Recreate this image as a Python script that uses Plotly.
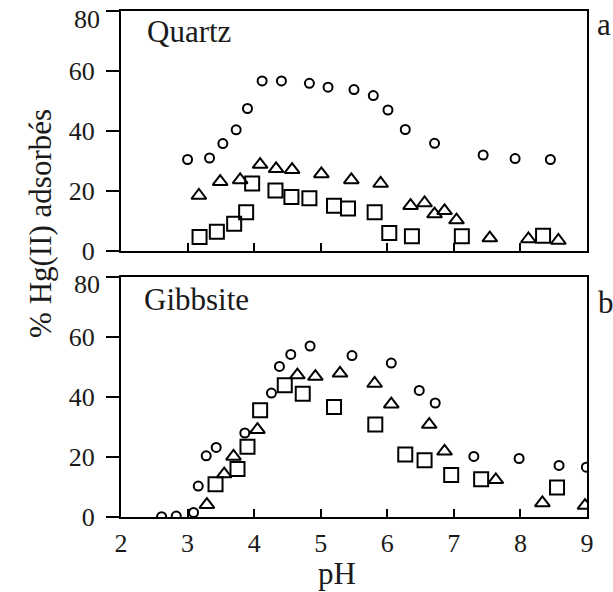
import plotly.graph_objects as go
from plotly.subplots import make_subplots

# Quartz (panel a)
qz_circ_ph = [3.00, 3.33, 3.53, 3.73, 3.90, 4.12, 4.41, 4.83, 5.11, 5.50, 5.79, 6.01, 6.27, 6.71, 7.44, 7.92, 8.45]
qz_circ_y = [30.5, 31, 35.8, 40.4, 47.5, 56.7, 56.7, 55.9, 54.6, 53.8, 51.8, 47, 40.5, 35.9, 32, 30.8, 30.5]
qz_tri_ph = [3.17, 3.49, 3.79, 4.09, 4.33, 4.57, 5.01, 5.46, 5.90, 6.35, 6.56, 6.71, 6.86, 7.04, 7.54, 8.12, 8.57]
qz_tri_y = [18.5, 23.1, 23.7, 28.8, 27.4, 27.1, 25.7, 23.7, 22.5, 15.1, 16, 12.3, 13.4, 10.3, 4.3, 4, 3.5]
qz_sq_ph = [3.18, 3.44, 3.70, 3.88, 3.97, 4.32, 4.56, 4.83, 5.20, 5.41, 5.81, 6.03, 6.37, 7.12, 8.34]
qz_sq_y = [4.7, 6.4, 9.1, 12.9, 22.5, 20.2, 18, 17.6, 15.1, 14.2, 12.9, 6, 4.9, 4.9, 5.1]

# Gibbsite (panel b)
gb_circ_ph = [2.61, 2.83, 3.09, 3.16, 3.28, 3.43, 3.86, 4.26, 4.38, 4.55, 4.84, 5.47, 6.06, 6.48, 6.72, 7.30, 7.98, 8.58, 8.99]
gb_circ_y = [0.1, 0.3, 1.5, 10.3, 20.4, 23.2, 28, 41.3, 50.2, 54.2, 57, 53.8, 51.3, 42.2, 38, 20.2, 19.5, 17.2, 16.6]
gb_tri_ph = [3.29, 3.55, 3.69, 4.05, 4.65, 4.92, 5.29, 5.81, 6.06, 6.63, 6.86, 7.63, 8.33, 8.97]
gb_tri_y = [4.1, 14.3, 20.2, 29.1, 47.3, 46.8, 47.9, 44.5, 37.6, 30.8, 21.9, 12.4, 4.7, 3.8]
gb_sq_ph = [3.42, 3.75, 3.90, 4.09, 4.46, 4.73, 5.20, 5.82, 6.27, 6.56, 6.96, 7.41, 8.55]
gb_sq_y = [10.9, 16, 23.4, 35.6, 43.9, 41.1, 36.7, 30.8, 20.8, 18.9, 14, 12.6, 9.8]

y_ticks = [0, 20, 40, 60, 80]
y_ticktext = ["0", "20", "40", "60", ""]  # top "80" drawn separately, nudged down like the original
x_ticks = [2, 3, 4, 5, 6, 7, 8, 9]

FONT = "Liberation Serif"
INK = "#1a1a1a"

fig = make_subplots(rows=2, cols=1, vertical_spacing=0.0514)

panels = [
    (1, qz_circ_ph, qz_circ_y, qz_tri_ph, qz_tri_y, qz_sq_ph, qz_sq_y),
    (2, gb_circ_ph, gb_circ_y, gb_tri_ph, gb_tri_y, gb_sq_ph, gb_sq_y),
]
for row, cx, cy, tx, ty, sx, sy in panels:
    fig.add_trace(go.Scatter(x=sx, y=sy, mode="markers",
                             marker=dict(symbol="square-open", size=14, color="black", line=dict(width=2))),
                  row=row, col=1)
    fig.add_trace(go.Scatter(x=tx, y=ty, mode="markers",
                             marker=dict(symbol="triangle-up-open", size=13, color="black", line=dict(width=2))),
                  row=row, col=1)
    fig.add_trace(go.Scatter(x=cx, y=cy, mode="markers",
                             marker=dict(symbol="circle-open", size=9, color="black", line=dict(width=2))),
                  row=row, col=1)

for row in (1, 2):
    fig.update_xaxes(range=[2, 9], tickvals=x_ticks, ticks="inside", ticklen=8, tickwidth=2,
                     tickcolor="black", showline=True, linecolor="black", linewidth=2, mirror=True,
                     showgrid=False, zeroline=False, showticklabels=(row == 2), automargin=False,
                     ticklabelstandoff=2,
                     tickfont=dict(family=FONT, size=26, color=INK), row=row, col=1)
    fig.update_yaxes(range=[0, 80], tickvals=y_ticks, ticktext=y_ticktext, ticks="outside", ticklen=13,
                     tickwidth=2, tickcolor="black", showline=True, linecolor="black", linewidth=2,
                     mirror=True, showgrid=False, zeroline=False, automargin=False, ticklabelstandoff=6,
                     tickfont=dict(family=FONT, size=26, color=INK), row=row, col=1)

label_font = dict(family=FONT, size=31, color=INK)
tick_font = dict(family=FONT, size=26, color=INK)

annotations = [
    dict(text="Quartz", x=0.0515, y=0.960, xref="paper", yref="paper", xanchor="left", yanchor="middle",
         showarrow=False, font=label_font),
    dict(text="Gibbsite", x=0.044, y=0.429, xref="paper", yref="paper", xanchor="left", yanchor="middle",
         showarrow=False, font=label_font),
    dict(text="a", x=1.018, y=0.974, xref="paper", yref="paper", xanchor="left", yanchor="middle",
         showarrow=False, font=label_font),
    dict(text="b", x=1.02, y=0.423, xref="paper", yref="paper", xanchor="left", yanchor="middle",
         showarrow=False, font=label_font),
    dict(text="% Hg(II) adsorbés", x=-0.174, y=0.581, xref="paper", yref="paper", textangle=-90,
         xanchor="center", yanchor="middle", showarrow=False, font=label_font),
    dict(text="pH", x=0.4635, y=-0.1107, xref="paper", yref="paper", xanchor="center", yanchor="middle",
         showarrow=False, font=label_font),
]
for yref, shift in (("y", -8), ("y2", -7)):
    annotations.append(dict(text=str(y_ticks[-1]), x=0, y=y_ticks[-1], xref="paper", yref=yref,
                            xanchor="right", yanchor="middle", xshift=-19, yshift=shift,
                            showarrow=False, font=tick_font))

fig.update_layout(
    width=613, height=592,
    margin=dict(l=121, r=26, t=11, b=75),
    plot_bgcolor="white", paper_bgcolor="white",
    showlegend=False,
    font=dict(family=FONT, color=INK),
    annotations=annotations,
)

fig.write_html("out.html", config={"displayModeBar": False},
               post_script="document.body.style.margin='0';document.body.style.overflow='hidden';")
